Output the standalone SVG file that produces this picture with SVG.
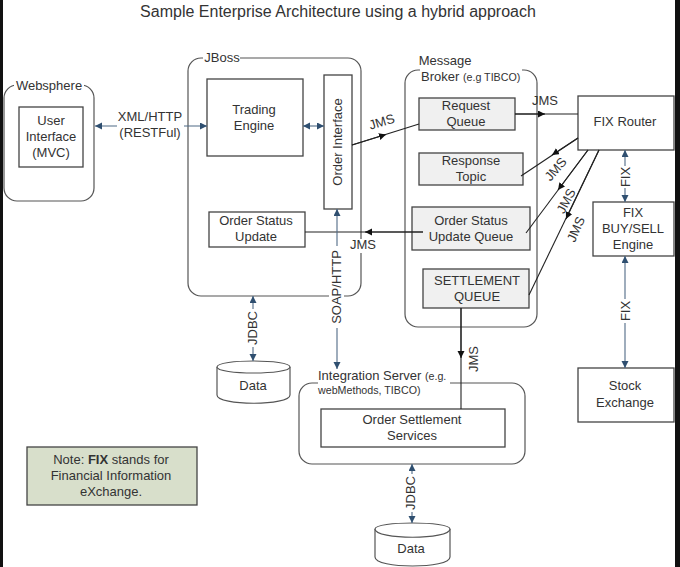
<svg xmlns="http://www.w3.org/2000/svg" width="680" height="567" viewBox="0 0 680 567">
<style>
text{font-family:"Liberation Sans",Arial,sans-serif;font-size:13px;fill:#333;text-anchor:middle}
.s{font-size:10.700px}
.l{text-anchor:start}
.b{fill:#fff;stroke:#444;stroke-width:1.3}
.g{fill:#f0f0f0;stroke:#444;stroke-width:1.3}
.c{fill:#fff;stroke:#555;stroke-width:1.2}
.k{fill:none;stroke:#222;stroke-width:1.1}
.u{fill:none;stroke:#4f6a86;stroke-width:1.1}
.m{fill:#fff}
</style>
<defs>
<marker id="a" markerWidth="8" markerHeight="8" refX="7" refY="3.5" orient="auto-start-reverse" markerUnits="userSpaceOnUse"><path d="M0 0L7 3.5L0 7z" fill="#111"/></marker>
<marker id="h" markerWidth="8" markerHeight="8" refX="7" refY="3.5" orient="auto-start-reverse" markerUnits="userSpaceOnUse"><path d="M0 0L7 3.5L0 7z" fill="#2f4f70"/></marker>
</defs>
<rect width="680" height="567" fill="#fff"/>
<rect x="0" y="0" width="3" height="567" fill="#111"/>
<rect x="675" y="0" width="5" height="567" fill="#111"/>
<text x="338" y="17" style="font-size:16px">Sample Enterprise Architecture using a hybrid approach</text>
<g id="websphere"><rect class="c" x="4" y="85" width="90" height="116" rx="13"/><rect class="m" x="14" y="80" width="70" height="12"/><text x="49" y="90">Websphere</text></g>
<g id="user-interface"><rect class="b" x="19" y="107" width="64" height="60"/><text x="51" y="125">User</text><text x="51" y="141">Interface</text><text x="51" y="157">(MVC)</text></g>
<g id="jboss"><rect class="c" x="188" y="58" width="173" height="238" rx="13"/><rect class="m" x="203" y="50" width="37" height="14"/><text x="222" y="62">JBoss</text></g>
<g id="trading-engine"><rect class="b" x="207" y="79" width="96" height="77"/><text x="254" y="114">Trading</text><text x="254" y="130">Engine</text></g>
<g id="order-interface"><rect class="b" x="324" y="75" width="28" height="134"/><text transform="translate(342 142) rotate(-90)">Order Interface</text></g>
<g id="order-status-update"><rect class="b" x="209" y="212" width="96" height="35"/><text x="256" y="225">Order Status</text><text x="256" y="241">Update</text></g>
<g id="message-broker"><rect class="c" x="405" y="70" width="132" height="257" rx="13"/><rect class="m" x="420" y="52" width="102" height="36"/><text x="445" y="65">Message</text><text class="l" x="421" y="81">Broker <tspan class="s">(e.g TIBCO)</tspan></text></g>
<g id="request-queue"><rect class="g" x="419" y="98" width="96" height="32"/><text x="466" y="110">Request</text><text x="466" y="126">Queue</text></g>
<g id="response-topic"><rect class="g" x="419" y="153" width="104" height="32"/><text x="471" y="165">Response</text><text x="471" y="181">Topic</text></g>
<g id="status-queue"><rect class="g" x="412" y="207" width="118" height="43"/><text x="471" y="225">Order Status</text><text x="471" y="241">Update Queue</text></g>
<g id="settlement-queue"><rect class="g" x="423" y="269" width="106" height="39"/><text x="477" y="285">SETTLEMENT</text><text x="477" y="301">QUEUE</text></g>
<g id="fix-router"><rect class="b" x="578" y="96" width="96" height="54"/><text x="625" y="126">FIX Router</text></g>
<g id="fix-engine"><rect class="b" x="593" y="202" width="81" height="54"/><text x="633" y="217">FIX</text><text x="633" y="233">BUY/SELL</text><text x="633" y="249">Engine</text></g>
<g id="stock-exchange"><rect class="b" x="578" y="368" width="96" height="54"/><text x="625" y="390">Stock</text><text x="625" y="407">Exchange</text></g>
<g id="integration-server"><rect class="c" x="299" y="383" width="226" height="81" rx="13"/><rect class="m" x="318" y="368" width="132" height="30"/><text class="l" x="318" y="380">Integration Server <tspan class="s">(e.g.</tspan></text><text class="s l" x="318" y="394">webMethods, TIBCO)</text></g>
<g id="order-settlement"><rect class="b" x="321" y="409" width="184" height="38"/><text x="412" y="424">Order Settlement</text><text x="412" y="440">Services</text></g>
<g id="data-1"><path class="c" d="M217 367C217 359 290 359 290 367V395C290 406 217 406 217 395z"/><path class="c" d="M217 367C217 375 290 375 290 367"/><text x="253" y="390">Data</text></g>
<g id="data-2"><path class="c" d="M375 529C375 521 450 521 450 529V557C450 569 375 569 375 557z"/><path class="c" d="M375 529C375 540 450 540 450 529"/><text x="411" y="553">Data</text></g>
<g id="note"><rect x="27" y="447" width="170" height="58" fill="#d8dfcb" stroke="#444" stroke-width="1.3"/><text x="111" y="464">Note: <tspan font-weight="700">FIX</tspan> stands for</text><text x="111" y="480">Financial Information</text><text x="111" y="496">eXchange.</text></g>
<g id="connectors">
<path class="u" d="M95 126H117M184 126H207" marker-start="url(#h)" marker-end="url(#h)"/>
<path class="u" d="M303 126H324" marker-start="url(#h)" marker-end="url(#h)"/>
<path class="k" d="M352 145L419 124"/><path class="k" d="M352 145L386 134.500" marker-end="url(#a)"/>
<path class="k" d="M515 114H578"/><path class="k" d="M515 114H545" marker-end="url(#a)"/>
<path class="k" d="M578 138L521 176"/><path class="k" d="M578 138L552 155" marker-end="url(#a)"/>
<path class="k" d="M588 150L526 233"/><path class="k" d="M588 150L558 190" marker-end="url(#a)"/>
<path class="k" d="M599 150L529 295"/><path class="k" d="M599 150L566 219" marker-end="url(#a)"/>
<path class="k" d="M305 232H423"/><path class="k" d="M423 232H365" marker-end="url(#a)"/>
<path class="u" d="M625 150V202" marker-start="url(#h)" marker-end="url(#h)"/>
<path class="u" d="M625 256V368" marker-start="url(#h)" marker-end="url(#h)"/>
<path class="u" d="M337 209V369" marker-start="url(#h)" marker-end="url(#h)"/>
<path class="u" d="M253 296V361" marker-start="url(#h)" marker-end="url(#h)"/>
<path class="u" d="M412 464V523" marker-start="url(#h)" marker-end="url(#h)"/>
<path class="k" d="M461 308V409"/><path class="k" d="M461 308V358" marker-end="url(#a)"/>
</g>
<g id="labels">
<rect class="m" x="117" y="108" width="67" height="34"/><text x="150" y="121">XML/HTTP</text><text x="150" y="137">(RESTFul)</text>
<text transform="translate(383 126) rotate(-17)">JMS</text>
<text x="545" y="105">JMS</text>
<text transform="translate(559 172) rotate(-49)">JMS</text>
<text transform="translate(570 203) rotate(-62)">JMS</text>
<text transform="translate(580 231) rotate(-66)">JMS</text>
<rect class="m" x="350" y="239" width="26" height="14"/><text x="363" y="249">JMS</text>
<rect class="m" x="618" y="166" width="14" height="22"/><text transform="translate(630 177) rotate(-90)">FIX</text>
<rect class="m" x="618" y="299" width="14" height="24"/><text transform="translate(630 311) rotate(-90)">FIX</text>
<rect class="m" x="329" y="246" width="15" height="82"/><text transform="translate(341 287) rotate(-90)">SOAP/HTTP</text>
<rect class="m" x="246" y="309" width="15" height="38"/><text transform="translate(257 328) rotate(-90)">JDBC</text>
<rect class="m" x="404" y="474" width="15" height="38"/><text transform="translate(415 493) rotate(-90)">JDBC</text>
<text transform="translate(478 359) rotate(-90)">JMS</text>
</g>
</svg>
